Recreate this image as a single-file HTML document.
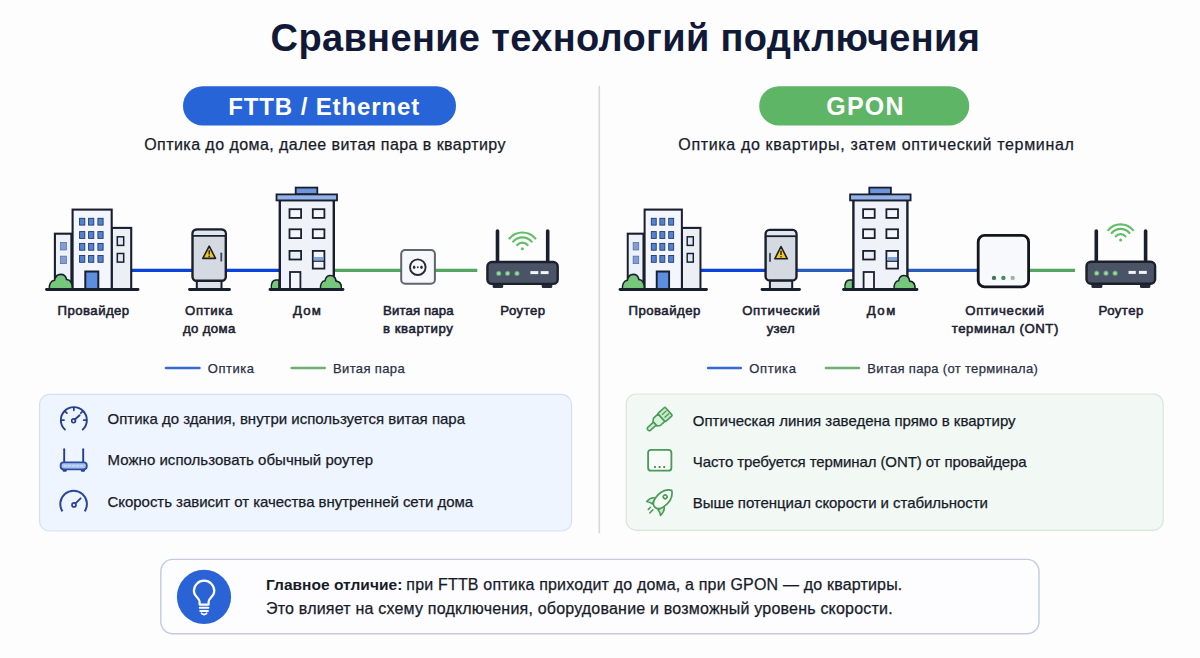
<!DOCTYPE html><html><head><meta charset="utf-8"><title>Сравнение технологий подключения</title>
<style>html,body{margin:0;padding:0;background:#fdfdfe;}body{width:1200px;height:658px;overflow:hidden;font-family:"Liberation Sans",sans-serif;}svg{display:block;}svg text{font-family:"Liberation Sans",sans-serif;}</style></head><body>
<svg width="1200" height="658" viewBox="0 0 1200 658">
<rect width="1200" height="658" fill="#fdfdfe"/>
<text x="270.6" y="50.5" font-size="38" font-weight="bold" fill="#111936" textLength="709.4" lengthAdjust="spacing">Сравнение технологий подключения</text>
<rect x="183" y="86.2" width="273" height="39.4" rx="19.7" fill="#2664d8"/>
<text x="228.2" y="115.0" font-size="24" font-weight="bold" fill="#ffffff" textLength="191.1" lengthAdjust="spacing">FTTB / Ethernet</text>
<rect x="759.2" y="86.2" width="210" height="39.4" rx="19.7" fill="#5db565"/>
<text x="826.2" y="115.3" font-size="25" font-weight="bold" fill="#ffffff" textLength="77.4" lengthAdjust="spacing">GPON</text>
<text x="144.2" y="150.2" font-size="16" fill="#171b29" stroke="#171b29" stroke-width="0.25" textLength="361.3" lengthAdjust="spacing">Оптика до дома, далее витая пара в квартиру</text>
<text x="678.3" y="149.6" font-size="16" fill="#171b29" stroke="#171b29" stroke-width="0.25" textLength="395.5" lengthAdjust="spacing">Оптика до квартиры, затем оптический терминал</text>
<rect x="598.5" y="85.8" width="1.6" height="447.5" fill="#d5d8de"/>
<line x1="132" y1="270.3" x2="192" y2="270.3" stroke="#0b41dd" stroke-width="3.3"/>
<line x1="226" y1="270.3" x2="279" y2="270.3" stroke="#0b41dd" stroke-width="3.3"/>
<line x1="334" y1="270.3" x2="401" y2="270.3" stroke="#53a560" stroke-width="3.3"/>
<line x1="435" y1="270.3" x2="477.3" y2="270.3" stroke="#53a560" stroke-width="3.3"/>
<line x1="701" y1="270.3" x2="765" y2="270.3" stroke="#0b41dd" stroke-width="3.3"/>
<line x1="797" y1="270.3" x2="853" y2="270.3" stroke="#2a5cbb" stroke-width="3.3"/>
<line x1="908" y1="270.3" x2="978" y2="270.3" stroke="#2a5cbb" stroke-width="3.3"/>
<line x1="1029" y1="270.3" x2="1075" y2="270.3" stroke="#53a560" stroke-width="3.3"/>
<g transform="translate(53.70,0) scale(1.0000,1) translate(-53.7,0)">
<rect x="54.9" y="233.7" width="16.5" height="55.8" fill="#edf1f9" stroke="#1a1f2e" stroke-width="2.1"/>
<rect x="111.7" y="227.9" width="19.5" height="61.6" fill="#eceff5" stroke="#1a1f2e" stroke-width="2.1"/>
<rect x="72.6" y="209.6" width="39.1" height="79.9" fill="#f3f6fc" stroke="#1a1f2e" stroke-width="2.1"/>
<rect x="79.6" y="218.3" width="5.2" height="6.8" fill="#5283d4" stroke="#243866" stroke-width="0.9"/>
<rect x="79.6" y="231.6" width="5.2" height="6.8" fill="#5283d4" stroke="#243866" stroke-width="0.9"/>
<rect x="79.6" y="243.4" width="5.2" height="6.8" fill="#5283d4" stroke="#243866" stroke-width="0.9"/>
<rect x="79.6" y="255.5" width="5.2" height="6.8" fill="#5283d4" stroke="#243866" stroke-width="0.9"/>
<rect x="88.6" y="218.3" width="5.2" height="6.8" fill="#5283d4" stroke="#243866" stroke-width="0.9"/>
<rect x="88.6" y="231.6" width="5.2" height="6.8" fill="#5283d4" stroke="#243866" stroke-width="0.9"/>
<rect x="88.6" y="243.4" width="5.2" height="6.8" fill="#5283d4" stroke="#243866" stroke-width="0.9"/>
<rect x="88.6" y="255.5" width="5.2" height="6.8" fill="#5283d4" stroke="#243866" stroke-width="0.9"/>
<rect x="97.9" y="218.3" width="5.2" height="6.8" fill="#5283d4" stroke="#243866" stroke-width="0.9"/>
<rect x="97.9" y="231.6" width="5.2" height="6.8" fill="#5283d4" stroke="#243866" stroke-width="0.9"/>
<rect x="97.9" y="243.4" width="5.2" height="6.8" fill="#5283d4" stroke="#243866" stroke-width="0.9"/>
<rect x="97.9" y="255.5" width="5.2" height="6.8" fill="#5283d4" stroke="#243866" stroke-width="0.9"/>
<rect x="60.5" y="242.4" width="6" height="7.6" fill="#7f9ed8" stroke="#4a5d88" stroke-width="0.6"/>
<rect x="60.5" y="256.1" width="6" height="7.6" fill="#7f9ed8" stroke="#4a5d88" stroke-width="0.6"/>
<rect x="117.3" y="236.8" width="6.4" height="8.6" fill="#dfe7f6" stroke="#1a1f2e" stroke-width="1.5"/>
<rect x="117.3" y="253.5" width="6.4" height="8.6" fill="#dfe7f6" stroke="#1a1f2e" stroke-width="1.5"/>
<rect x="85.3" y="271.5" width="13" height="18" fill="#5d8fde" stroke="#1a1f2e" stroke-width="2"/>
<path d="M49.4,289 C48.9,285 50.5,280.6 54.5,280.2 C55.3,276.6 57.9,274.4 60.7,274.4 C63.8,274.4 66,276.6 66.6,279.5 C69.9,279.5 72.5,282.2 72.4,289 Z" fill="#76c67b" stroke="#1a1f2e" stroke-width="1.6"/>
</g>
<line x1="46.5" y1="289.5" x2="138" y2="289.5" stroke="#1a1f2e" stroke-width="2.8" stroke-linecap="round"/>
<rect x="196.8" y="281.0" width="24.7" height="8.5" fill="#dde1e9" stroke="#1a1f2e" stroke-width="2"/>
<rect x="192.5" y="229.5" width="33.3" height="51.3" rx="4" fill="#d4d9e2" stroke="#1a1f2e" stroke-width="2.4"/>
<path d="M193.7,234.3 Q193.7,230.7 197.3,230.7 L221.0,230.7 Q224.6,230.7 224.6,234.3 L224.6,235.1 L193.7,235.1 Z" fill="#e2e6ef"/>
<line x1="192.3" y1="235.8" x2="226.0" y2="235.8" stroke="#1a1f2e" stroke-width="1.8"/>
<path d="M209.2,246.1 L215.5,258.4 L202.8,258.4 Z" fill="#f3c623" stroke="#1a1f2e" stroke-width="1.6" stroke-linejoin="round"/>
<line x1="209.2" y1="250.3" x2="209.2" y2="254.6" stroke="#1a1f2e" stroke-width="1.4"/>
<circle cx="209.2" cy="256.4" r="0.8" fill="#1a1f2e"/>
<line x1="221.3" y1="253.3" x2="221.3" y2="260.7" stroke="#3a4260" stroke-width="1.8" stroke-linecap="round"/>
<line x1="189.5" y1="289.5" x2="229.5" y2="289.5" stroke="#1a1f2e" stroke-width="2.8" stroke-linecap="round"/>
<g transform="translate(0.00,0)">
<path d="M271.5,289 C270.5,284 272.5,280 276,280 L279,280 L279,289 Z" fill="#76c67b" stroke="#1a1f2e" stroke-width="1.5"/>
<path d="M320.5,289 C320,285 321.6,281 325,280.8 C325.6,277.5 327.9,275.6 330.4,275.6 C333.5,275.6 335.5,278 336,281.2 C339.6,281.2 341.7,284.2 341.4,289 Z" fill="#76c67b" stroke="#1a1f2e" stroke-width="1.5"/>
<rect x="279.8" y="200" width="54" height="89.5" fill="#eff2f8" stroke="#1a1f2e" stroke-width="2.4"/>
<path d="M320.5,289 C320,285 321.6,281 325,280.8 C325.6,277.5 327.9,275.6 330.4,275.6 C333.5,275.6 335.5,278 336,281.2 C339.6,281.2 341.7,284.2 341.4,289 Z" fill="#76c67b" stroke="#1a1f2e" stroke-width="1.5"/>
<rect x="295.7" y="187.6" width="21.6" height="6.6" fill="#6e96dc" stroke="#1a1f2e" stroke-width="1.8"/>
<rect x="276.5" y="194.4" width="60.5" height="6" fill="#93b3ea" stroke="#1a1f2e" stroke-width="1.8"/>
<rect x="289.5" y="209.2" width="11.6" height="8.7" fill="#f4f6fb" stroke="#1a1f2e" stroke-width="1.8"/>
<rect x="289.5" y="229.3" width="11.6" height="8.8" fill="#f4f6fb" stroke="#1a1f2e" stroke-width="1.8"/>
<rect x="312.8" y="209.2" width="11.6" height="8.7" fill="#f4f6fb" stroke="#1a1f2e" stroke-width="1.8"/>
<rect x="312.8" y="229.3" width="11.6" height="8.8" fill="#f4f6fb" stroke="#1a1f2e" stroke-width="1.8"/>
<rect x="289.5" y="250.9" width="11.6" height="8.6" fill="#e9eef8" stroke="#1a1f2e" stroke-width="1.8"/>
<rect x="312.8" y="250.9" width="11.6" height="17.7" fill="#f1f4fa" stroke="#1a1f2e" stroke-width="1.8"/>
<rect x="313.7" y="257" width="9.8" height="3.4" fill="#7da2e2"/>
<line x1="312.8" y1="261.2" x2="324.4" y2="261.2" stroke="#1a1f2e" stroke-width="1.3"/>
<rect x="290" y="272" width="10.4" height="17.5" fill="#f4f6fb" stroke="#1a1f2e" stroke-width="1.8"/>
</g>
<line x1="270" y1="289.5" x2="343" y2="289.5" stroke="#1a1f2e" stroke-width="2.8" stroke-linecap="round"/>
<rect x="401.2" y="250.1" width="33.7" height="33.7" rx="4" fill="#f6f8fc" stroke="#5e6570" stroke-width="2"/>
<circle cx="417.8" cy="267.2" r="7.8" fill="#f6f8fc" stroke="#262b36" stroke-width="1.9"/>
<ellipse cx="414.1" cy="267.2" rx="1.25" ry="1.7" fill="#262b36"/><circle cx="417.8" cy="267.3" r="1" fill="#3a404c"/><ellipse cx="421.5" cy="267.2" rx="1.25" ry="1.7" fill="#262b36"/>
<line x1="497.5" y1="231.0" x2="497.5" y2="261.8" stroke="#1a1f2e" stroke-width="3.6" stroke-linecap="round"/>
<line x1="547.7" y1="231.0" x2="547.7" y2="261.8" stroke="#1a1f2e" stroke-width="3.6" stroke-linecap="round"/>
<rect x="492.6" y="283.1" width="10.6" height="5" rx="1.5" fill="#262a36"/>
<rect x="541.7" y="283.1" width="10.6" height="5" rx="1.5" fill="#262a36"/>
<rect x="487.4" y="262.0" width="70.3" height="21.9" rx="4.5" fill="#4b5366" stroke="#1c202b" stroke-width="2.4"/>
<circle cx="498.7" cy="273.4" r="2.6" fill="#7fd287" opacity="0.55"/>
<circle cx="498.7" cy="273.4" r="1.7" fill="#8fe29a"/>
<circle cx="507.6" cy="273.4" r="2.6" fill="#7fd287" opacity="0.55"/>
<circle cx="507.6" cy="273.4" r="1.7" fill="#8fe29a"/>
<circle cx="517.0" cy="273.4" r="2.6" fill="#7fd287" opacity="0.55"/>
<circle cx="517.0" cy="273.4" r="1.7" fill="#8fe29a"/>
<rect x="530.4" y="271.1" width="7.9" height="3" fill="#f2f4f8"/>
<rect x="540.7" y="271.1" width="7.9" height="3" fill="#f2f4f8"/>
<circle cx="522.4" cy="248.8" r="1.5" fill="#62bd69"/>
<path d="M517.22,245.05 A6.76,6.76 0 0 1 527.58,245.05" fill="none" stroke="#62bd69" stroke-width="2.2" stroke-linecap="round"/>
<path d="M513.13,241.62 A12.10,12.10 0 0 1 531.67,241.62" fill="none" stroke="#62bd69" stroke-width="2.2" stroke-linecap="round"/>
<path d="M509.45,238.53 A16.91,16.91 0 0 1 535.35,238.53" fill="none" stroke="#62bd69" stroke-width="2.2" stroke-linecap="round"/>
<g transform="translate(626.60,0) scale(0.9530,1) translate(-53.7,0)">
<rect x="54.9" y="233.7" width="16.5" height="55.8" fill="#edf1f9" stroke="#1a1f2e" stroke-width="2.1"/>
<rect x="111.7" y="227.9" width="19.5" height="61.6" fill="#eceff5" stroke="#1a1f2e" stroke-width="2.1"/>
<rect x="72.6" y="209.6" width="39.1" height="79.9" fill="#f3f6fc" stroke="#1a1f2e" stroke-width="2.1"/>
<rect x="79.6" y="218.3" width="5.2" height="6.8" fill="#5283d4" stroke="#243866" stroke-width="0.9"/>
<rect x="79.6" y="231.6" width="5.2" height="6.8" fill="#5283d4" stroke="#243866" stroke-width="0.9"/>
<rect x="79.6" y="243.4" width="5.2" height="6.8" fill="#5283d4" stroke="#243866" stroke-width="0.9"/>
<rect x="79.6" y="255.5" width="5.2" height="6.8" fill="#5283d4" stroke="#243866" stroke-width="0.9"/>
<rect x="88.6" y="218.3" width="5.2" height="6.8" fill="#5283d4" stroke="#243866" stroke-width="0.9"/>
<rect x="88.6" y="231.6" width="5.2" height="6.8" fill="#5283d4" stroke="#243866" stroke-width="0.9"/>
<rect x="88.6" y="243.4" width="5.2" height="6.8" fill="#5283d4" stroke="#243866" stroke-width="0.9"/>
<rect x="88.6" y="255.5" width="5.2" height="6.8" fill="#5283d4" stroke="#243866" stroke-width="0.9"/>
<rect x="97.9" y="218.3" width="5.2" height="6.8" fill="#5283d4" stroke="#243866" stroke-width="0.9"/>
<rect x="97.9" y="231.6" width="5.2" height="6.8" fill="#5283d4" stroke="#243866" stroke-width="0.9"/>
<rect x="97.9" y="243.4" width="5.2" height="6.8" fill="#5283d4" stroke="#243866" stroke-width="0.9"/>
<rect x="97.9" y="255.5" width="5.2" height="6.8" fill="#5283d4" stroke="#243866" stroke-width="0.9"/>
<rect x="60.5" y="242.4" width="6" height="7.6" fill="#7f9ed8" stroke="#4a5d88" stroke-width="0.6"/>
<rect x="60.5" y="256.1" width="6" height="7.6" fill="#7f9ed8" stroke="#4a5d88" stroke-width="0.6"/>
<rect x="117.3" y="236.8" width="6.4" height="8.6" fill="#dfe7f6" stroke="#1a1f2e" stroke-width="1.5"/>
<rect x="117.3" y="253.5" width="6.4" height="8.6" fill="#dfe7f6" stroke="#1a1f2e" stroke-width="1.5"/>
<rect x="85.3" y="271.5" width="13" height="18" fill="#5d8fde" stroke="#1a1f2e" stroke-width="2"/>
<path d="M49.4,289 C48.9,285 50.5,280.6 54.5,280.2 C55.3,276.6 57.9,274.4 60.7,274.4 C63.8,274.4 66,276.6 66.6,279.5 C69.9,279.5 72.5,282.2 72.4,289 Z" fill="#76c67b" stroke="#1a1f2e" stroke-width="1.6"/>
</g>
<line x1="620" y1="289.5" x2="706.5" y2="289.5" stroke="#1a1f2e" stroke-width="2.8" stroke-linecap="round"/>
<rect x="769.9" y="280.6" width="22.3" height="8.9" fill="#dde1e9" stroke="#1a1f2e" stroke-width="2"/>
<rect x="765.6" y="229.9" width="30.9" height="50.5" rx="4" fill="#d4d9e2" stroke="#1a1f2e" stroke-width="2.4"/>
<path d="M766.8,234.7 Q766.8,231.1 770.4,231.1 L791.7,231.1 Q795.3,231.1 795.3,234.7 L795.3,235.5 L766.8,235.5 Z" fill="#e2e6ef"/>
<line x1="765.4" y1="236.2" x2="796.7" y2="236.2" stroke="#1a1f2e" stroke-width="1.8"/>
<path d="M781.0,246.5 L787.3,258.8 L774.8,258.8 Z" fill="#f3c623" stroke="#1a1f2e" stroke-width="1.6" stroke-linejoin="round"/>
<line x1="781.0" y1="250.7" x2="781.0" y2="255.0" stroke="#1a1f2e" stroke-width="1.4"/>
<circle cx="781.0" cy="256.8" r="0.8" fill="#1a1f2e"/>
<line x1="770.0" y1="253.7" x2="770.0" y2="261.1" stroke="#3a4260" stroke-width="1.8" stroke-linecap="round"/>
<line x1="762" y1="289.5" x2="799.5" y2="289.5" stroke="#1a1f2e" stroke-width="2.8" stroke-linecap="round"/>
<g transform="translate(573.60,0)">
<path d="M271.5,289 C270.5,284 272.5,280 276,280 L279,280 L279,289 Z" fill="#76c67b" stroke="#1a1f2e" stroke-width="1.5"/>
<path d="M320.5,289 C320,285 321.6,281 325,280.8 C325.6,277.5 327.9,275.6 330.4,275.6 C333.5,275.6 335.5,278 336,281.2 C339.6,281.2 341.7,284.2 341.4,289 Z" fill="#76c67b" stroke="#1a1f2e" stroke-width="1.5"/>
<rect x="279.8" y="200" width="54" height="89.5" fill="#eff2f8" stroke="#1a1f2e" stroke-width="2.4"/>
<path d="M320.5,289 C320,285 321.6,281 325,280.8 C325.6,277.5 327.9,275.6 330.4,275.6 C333.5,275.6 335.5,278 336,281.2 C339.6,281.2 341.7,284.2 341.4,289 Z" fill="#76c67b" stroke="#1a1f2e" stroke-width="1.5"/>
<rect x="295.7" y="187.6" width="21.6" height="6.6" fill="#6e96dc" stroke="#1a1f2e" stroke-width="1.8"/>
<rect x="276.5" y="194.4" width="60.5" height="6" fill="#93b3ea" stroke="#1a1f2e" stroke-width="1.8"/>
<rect x="289.5" y="209.2" width="11.6" height="8.7" fill="#f4f6fb" stroke="#1a1f2e" stroke-width="1.8"/>
<rect x="289.5" y="229.3" width="11.6" height="8.8" fill="#f4f6fb" stroke="#1a1f2e" stroke-width="1.8"/>
<rect x="312.8" y="209.2" width="11.6" height="8.7" fill="#f4f6fb" stroke="#1a1f2e" stroke-width="1.8"/>
<rect x="312.8" y="229.3" width="11.6" height="8.8" fill="#f4f6fb" stroke="#1a1f2e" stroke-width="1.8"/>
<rect x="289.5" y="250.9" width="11.6" height="8.6" fill="#e9eef8" stroke="#1a1f2e" stroke-width="1.8"/>
<rect x="312.8" y="250.9" width="11.6" height="17.7" fill="#f1f4fa" stroke="#1a1f2e" stroke-width="1.8"/>
<rect x="313.7" y="257" width="9.8" height="3.4" fill="#7da2e2"/>
<line x1="312.8" y1="261.2" x2="324.4" y2="261.2" stroke="#1a1f2e" stroke-width="1.3"/>
<rect x="290" y="272" width="10.4" height="17.5" fill="#f4f6fb" stroke="#1a1f2e" stroke-width="1.8"/>
</g>
<line x1="843.5" y1="289.5" x2="917" y2="289.5" stroke="#1a1f2e" stroke-width="2.8" stroke-linecap="round"/>
<rect x="978.2" y="235.4" width="50.4" height="51.5" rx="6.5" fill="#f8f9fc" stroke="#14151d" stroke-width="2.8"/>
<circle cx="994" cy="277.9" r="2.2" fill="#3f7b52"/><circle cx="1003.4" cy="277.9" r="2.2" fill="#4a8a5d"/><circle cx="1012.7" cy="277.9" r="2.2" fill="#9fb5a4"/>
<line x1="1096.3" y1="231.0" x2="1096.3" y2="261.6" stroke="#1a1f2e" stroke-width="3.6" stroke-linecap="round"/>
<line x1="1145.6" y1="231.0" x2="1145.6" y2="261.6" stroke="#1a1f2e" stroke-width="3.6" stroke-linecap="round"/>
<rect x="1091.4" y="283.0" width="11.0" height="5" rx="1.5" fill="#262a36"/>
<rect x="1140.0" y="283.0" width="10.4" height="5" rx="1.5" fill="#262a36"/>
<rect x="1086.5" y="261.8" width="68.6" height="22.0" rx="4.5" fill="#4b5366" stroke="#1c202b" stroke-width="2.4"/>
<circle cx="1096.7" cy="273.2" r="2.6" fill="#7fd287" opacity="0.55"/>
<circle cx="1096.7" cy="273.2" r="1.7" fill="#8fe29a"/>
<circle cx="1106.0" cy="273.2" r="2.6" fill="#7fd287" opacity="0.55"/>
<circle cx="1106.0" cy="273.2" r="1.7" fill="#8fe29a"/>
<circle cx="1115.1" cy="273.2" r="2.6" fill="#7fd287" opacity="0.55"/>
<circle cx="1115.1" cy="273.2" r="1.7" fill="#8fe29a"/>
<rect x="1128.5" y="270.9" width="7.3" height="3" fill="#f2f4f8"/>
<rect x="1138.9" y="270.9" width="7.9" height="3" fill="#f2f4f8"/>
<circle cx="1120.6" cy="239.9" r="1.5" fill="#62bd69"/>
<path d="M1115.65,236.35 A6.46,6.46 0 0 1 1125.55,236.35" fill="none" stroke="#62bd69" stroke-width="2.2" stroke-linecap="round"/>
<path d="M1111.74,233.07 A11.56,11.56 0 0 1 1129.46,233.07" fill="none" stroke="#62bd69" stroke-width="2.2" stroke-linecap="round"/>
<path d="M1108.23,230.12 A16.15,16.15 0 0 1 1132.97,230.12" fill="none" stroke="#62bd69" stroke-width="2.2" stroke-linecap="round"/>
<text x="57.6" y="314.5" font-size="13.2" fill="#1c2130" stroke="#1c2130" stroke-width="0.55" textLength="71.6" lengthAdjust="spacing">Провайдер</text>
<text x="185.0" y="314.5" font-size="13.2" fill="#1c2130" stroke="#1c2130" stroke-width="0.55" textLength="47.3" lengthAdjust="spacing">Оптика</text>
<text x="183.0" y="333.2" font-size="13.2" fill="#1c2130" stroke="#1c2130" stroke-width="0.55" textLength="52.3" lengthAdjust="spacing">до дома</text>
<text x="293.0" y="314.5" font-size="13.2" fill="#1c2130" stroke="#1c2130" stroke-width="0.55" textLength="27.8" lengthAdjust="spacing">Дом</text>
<text x="383.0" y="314.5" font-size="13.2" fill="#1c2130" stroke="#1c2130" stroke-width="0.55" textLength="70.6" lengthAdjust="spacing">Витая пара</text>
<text x="383.0" y="333.2" font-size="13.2" fill="#1c2130" stroke="#1c2130" stroke-width="0.55" textLength="69.8" lengthAdjust="spacing">в квартиру</text>
<text x="500.2" y="314.5" font-size="13.2" fill="#1c2130" stroke="#1c2130" stroke-width="0.55" textLength="45.0" lengthAdjust="spacing">Роутер</text>
<text x="628.5" y="314.5" font-size="13.2" fill="#1c2130" stroke="#1c2130" stroke-width="0.55" textLength="71.8" lengthAdjust="spacing">Провайдер</text>
<text x="742.2" y="314.5" font-size="13.2" fill="#1c2130" stroke="#1c2130" stroke-width="0.55" textLength="77.6" lengthAdjust="spacing">Оптический</text>
<text x="766.7" y="333.2" font-size="13.2" fill="#1c2130" stroke="#1c2130" stroke-width="0.55" textLength="28.1" lengthAdjust="spacing">узел</text>
<text x="866.7" y="314.5" font-size="13.2" fill="#1c2130" stroke="#1c2130" stroke-width="0.55" textLength="28.6" lengthAdjust="spacing">Дом</text>
<text x="965.2" y="314.5" font-size="13.2" fill="#1c2130" stroke="#1c2130" stroke-width="0.55" textLength="78.8" lengthAdjust="spacing">Оптический</text>
<text x="951.7" y="333.2" font-size="13.2" fill="#1c2130" stroke="#1c2130" stroke-width="0.55" textLength="106.6" lengthAdjust="spacing">терминал (ONT)</text>
<text x="1098.5" y="314.5" font-size="13.2" fill="#1c2130" stroke="#1c2130" stroke-width="0.55" textLength="44.8" lengthAdjust="spacing">Роутер</text>
<line x1="166" y1="368" x2="199.4" y2="368" stroke="#3468d4" stroke-width="2.6" stroke-linecap="round"/>
<line x1="291.7" y1="368" x2="324.7" y2="368" stroke="#6bb06f" stroke-width="2.6" stroke-linecap="round"/>
<line x1="708.2" y1="368" x2="740.8" y2="368" stroke="#3468d4" stroke-width="2.6" stroke-linecap="round"/>
<line x1="826" y1="368" x2="858.9" y2="368" stroke="#6bb06f" stroke-width="2.6" stroke-linecap="round"/>
<text x="207.8" y="372.7" font-size="13" fill="#2a3144" stroke="#2a3144" stroke-width="0.25" textLength="46.1" lengthAdjust="spacing">Оптика</text>
<text x="333.0" y="372.7" font-size="13" fill="#2a3144" stroke="#2a3144" stroke-width="0.25" textLength="71.7" lengthAdjust="spacing">Витая пара</text>
<text x="749.3" y="372.7" font-size="13" fill="#2a3144" stroke="#2a3144" stroke-width="0.25" textLength="46.6" lengthAdjust="spacing">Оптика</text>
<text x="867.3" y="372.7" font-size="13" fill="#2a3144" stroke="#2a3144" stroke-width="0.25" textLength="170.6" lengthAdjust="spacing">Витая пара (от терминала)</text>
<rect x="39.6" y="394.4" width="532" height="136.6" rx="10" fill="#eff5fe" stroke="#d9dff0" stroke-width="1.2"/>
<rect x="626.2" y="394" width="537" height="136.3" rx="10" fill="#f2f8f4" stroke="#dbe3df" stroke-width="1.2"/>
<text x="107.5" y="424.3" font-size="15" fill="#171b29" stroke="#171b29" stroke-width="0.25" textLength="357.5" lengthAdjust="spacing">Оптика до здания, внутри используется витая пара</text>
<text x="107.6" y="465.4" font-size="15" fill="#171b29" stroke="#171b29" stroke-width="0.25" textLength="265.4" lengthAdjust="spacing">Можно использовать обычный роутер</text>
<text x="107.5" y="507.3" font-size="15" fill="#171b29" stroke="#171b29" stroke-width="0.25" textLength="365.6" lengthAdjust="spacing">Скорость зависит от качества внутренней сети дома</text>
<text x="692.8" y="425.7" font-size="15" fill="#171b29" stroke="#171b29" stroke-width="0.25" textLength="322.8" lengthAdjust="spacing">Оптическая линия заведена прямо в квартиру</text>
<text x="692.8" y="466.5" font-size="15" fill="#171b29" stroke="#171b29" stroke-width="0.25" textLength="333.9" lengthAdjust="spacing">Часто требуется терминал (ONT) от провайдера</text>
<text x="692.8" y="507.9" font-size="15" fill="#171b29" stroke="#171b29" stroke-width="0.25" textLength="295.1" lengthAdjust="spacing">Выше потенциал скорости и стабильности</text>
<path d="M64.98,429.61 A13,13 0 1 1 82.72,429.61" fill="none" stroke="#263f8a" stroke-width="1.9" stroke-linecap="round"/>
<line x1="61.85" y1="420.10" x2="64.05" y2="420.10" stroke="#263f8a" stroke-width="1.7" stroke-linecap="round"/>
<line x1="65.36" y1="411.61" x2="66.92" y2="413.17" stroke="#263f8a" stroke-width="1.7" stroke-linecap="round"/>
<line x1="73.85" y1="408.10" x2="73.85" y2="410.30" stroke="#263f8a" stroke-width="1.7" stroke-linecap="round"/>
<line x1="82.34" y1="411.61" x2="80.78" y2="413.17" stroke="#263f8a" stroke-width="1.7" stroke-linecap="round"/>
<line x1="85.85" y1="420.10" x2="83.65" y2="420.10" stroke="#263f8a" stroke-width="1.7" stroke-linecap="round"/>
<line x1="74.8" y1="419.5" x2="79.6" y2="415.2" stroke="#263f8a" stroke-width="1.9" stroke-linecap="round"/>
<circle cx="73.6" cy="420.8" r="1.9" fill="none" stroke="#263f8a" stroke-width="1.6"/>
<line x1="64.2" y1="449.3" x2="64.2" y2="462" stroke="#263f8a" stroke-width="1.9" stroke-linecap="round"/>
<line x1="83.2" y1="449.3" x2="83.2" y2="462" stroke="#263f8a" stroke-width="1.9" stroke-linecap="round"/>
<rect x="62.6" y="468.5" width="4.2" height="3.3" rx="1.2" fill="#263f8a"/><rect x="80.8" y="468.5" width="4.2" height="3.3" rx="1.2" fill="#263f8a"/>
<rect x="60.6" y="462.4" width="26.2" height="6.9" rx="3" fill="#a9c3f0" stroke="#2e4c9c" stroke-width="1.8"/>
<line x1="63.5" y1="465.8" x2="84" y2="465.8" stroke="#dbe6fb" stroke-width="0.9" stroke-dasharray="3 1.2"/>
<path d="M62.50,511.4 A13.3,13.3 0 1 1 84.70,511.4" fill="none" stroke="#2c4796" stroke-width="2"/>
<line x1="75.3" y1="503.6" x2="80.6" y2="498.3" stroke="#2c4796" stroke-width="1.9" stroke-linecap="round"/>
<circle cx="74" cy="504.9" r="2" fill="none" stroke="#2c4796" stroke-width="1.7"/>
<g transform="translate(659.6,419.4) rotate(-42)">
<rect x="-15.8" y="-2" width="10.3" height="4" rx="2" fill="#cdeccf" stroke="#4b9958" stroke-width="1.5"/>
<path d="M-6.3,-3 L-3.6,-5 L2.6,-5 L2.6,5 L-3.6,5 L-6.3,3 Z" fill="#d9f2da" stroke="#4b9958" stroke-width="1.6" stroke-linejoin="round"/>
<rect x="2.6" y="-5.6" width="9.6" height="11.2" rx="1" fill="#c4eac6" stroke="#4b9958" stroke-width="1.6"/>
<line x1="5" y1="-1.9" x2="11" y2="-1.9" stroke="#4b9958" stroke-width="1.3"/><line x1="5" y1="1.9" x2="11" y2="1.9" stroke="#4b9958" stroke-width="1.3"/>
</g>
<rect x="648.1" y="449.8" width="23.3" height="20.9" rx="3" fill="#f6fbf7" stroke="#4b9958" stroke-width="1.8"/>
<circle cx="655" cy="467" r="1.1" fill="#4d6e55"/><circle cx="659.6" cy="467" r="1.1" fill="#4d6e55"/><circle cx="664.2" cy="467" r="1.1" fill="#4d6e55"/>
<g transform="translate(662.5,499.5) rotate(45)">
<path d="M-5.3,3.5 C-8.5,5 -10,8.5 -9.8,12.6 C-7.8,11.2 -6.2,10.6 -4.2,10.3 Z" fill="#d2eed3" stroke="#4b9958" stroke-width="1.6" stroke-linejoin="round"/>
<path d="M5.3,3.5 C8.5,5 10,8.5 9.8,12.6 C7.8,11.2 6.2,10.6 4.2,10.3 Z" fill="#c9ecca" stroke="#4b9958" stroke-width="1.6" stroke-linejoin="round"/>
<path d="M0,-13 C5.5,-9.5 7.2,-3 6,4 C5.3,8 3.5,10.8 0,10.8 C-3.5,10.8 -5.3,8 -6,4 C-7.2,-3 -5.5,-9.5 0,-13 Z" fill="#f3faf3" stroke="#4b9958" stroke-width="1.7" stroke-linejoin="round"/>
<circle cx="0" cy="-3.8" r="1.9" fill="none" stroke="#4b9958" stroke-width="1.6"/>
<line x1="-3" y1="14" x2="-3" y2="17" stroke="#4b9958" stroke-width="1.5" stroke-linecap="round"/><line x1="0.5" y1="14.2" x2="0.5" y2="18.5" stroke="#4b9958" stroke-width="1.5" stroke-linecap="round"/>
</g>
<rect x="160.8" y="559.4" width="878.2" height="74.3" rx="12" fill="#fdfdff" stroke="#c3cadf" stroke-width="1.4"/>
<circle cx="204" cy="596.9" r="27.1" fill="#2a63d5"/>
<path d="M199.6,604.6 L199.6,601.5 C199.6,598.6 193.9,596.2 193.9,590.9 A10.2,10.2 0 1 1 214.3,590.9 C214.3,596.2 208.6,598.6 208.6,601.5 L208.6,604.6 Z" fill="none" stroke="#ffffff" stroke-width="2.2" stroke-linejoin="round"/>
<line x1="199.8" y1="607.8" x2="208.4" y2="607.8" stroke="#fff" stroke-width="2" stroke-linecap="round"/>
<line x1="200.3" y1="610.9" x2="207.9" y2="610.9" stroke="#fff" stroke-width="2" stroke-linecap="round"/>
<path d="M201.6,613.3 Q204.1,615.6 206.6,613.3" fill="none" stroke="#fff" stroke-width="1.8" stroke-linecap="round"/>
<text x="266.0" y="589.8" font-size="15.5" font-weight="bold" fill="#171b29" textLength="136.3" lengthAdjust="spacing">Главное отличие:</text>
<text x="406.3" y="589.8" font-size="16" fill="#171b29" stroke="#171b29" stroke-width="0.25" textLength="496.0" lengthAdjust="spacing">при FTTB оптика приходит до дома, а при GPON — до квартиры.</text>
<text x="266.0" y="613.5" font-size="16" fill="#171b29" stroke="#171b29" stroke-width="0.25" textLength="626.6" lengthAdjust="spacing">Это влияет на схему подключения, оборудование и возможный уровень скорости.</text>
</svg></body></html>
